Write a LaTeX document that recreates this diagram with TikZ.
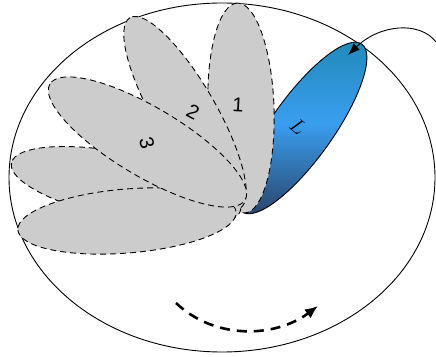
\documentclass[tikz,border=0pt]{standalone}
\usepackage{fontspec}
\setmainfont{Liberation Sans}
\usetikzlibrary{shapes.geometric, arrows.meta}
\definecolor{lobetop}{RGB}{31,136,180}
\definecolor{lobemid}{RGB}{58,158,240}
\definecolor{lobebot}{RGB}{42,72,112}
\begin{document}
\begin{tikzpicture}[x=1pt, y=1pt, every node/.style={inner sep=0pt},
    petal/.style={ellipse, draw, dash pattern=on 6pt off 4pt, fill=gray!40, line width=0.9pt},
    num/.style={font=\fontsize{20}{22}\selectfont}, >={Latex[length=12pt, width=9pt]}]
    \useasboundingbox (0,0) rectangle (436,356);
    \node[ellipse, draw, line width=0.9pt, minimum width=426pt, minimum height=349pt] (disk) at (222,178.5) {};
    % blue lobe
    \node[ellipse, draw, line width=0.9pt, minimum width=206pt, minimum height=62pt, rotate=54.5,
        top color=lobetop, bottom color=lobebot, middle color=lobemid] (lobe) at (302,228) {};
    % grey lobes
    \node[petal, minimum width=210pt, minimum height=66pt, rotate=92] (1) at (241,248) {};
    \node[petal, minimum width=220pt, minimum height=62pt, rotate=120] (2) at (185,243) {};
    \node[petal, minimum width=234pt, minimum height=66pt, rotate=168.4] (4) at (126,169.5) {};
    \node[petal, minimum width=219pt, minimum height=64pt, rotate=184.7] (5) at (127,135) {};
    \node[petal, minimum width=227pt, minimum height=69pt, rotate=149.3] (3) at (147.5,214) {};
    \node[num, rotate=-3] (n1) at (238,251) {1};
    \node[num, rotate=-28] (n2) at (193,244) {2};
    \node[num, rotate=-75] (n3) at (147,213) {3};
    \node[num, rotate=-40] (nL) at (298,229) {$L$};
    % arrows
    \coordinate (in) at (436,314);
    \coordinate (hit) at (348,301);
    \draw[->, line width=0.9pt] (in) .. controls (420,335) and (380,332) .. (hit);
    \coordinate (s) at (176,53);
    \coordinate (e) at (318,50);
    \draw[->, line width=2.6pt, dash pattern=on 10pt off 7pt, >={Latex[length=13pt, width=11pt]}] (s) .. controls (215,16) and (275,18) .. (e);
\end{tikzpicture}
\end{document}
